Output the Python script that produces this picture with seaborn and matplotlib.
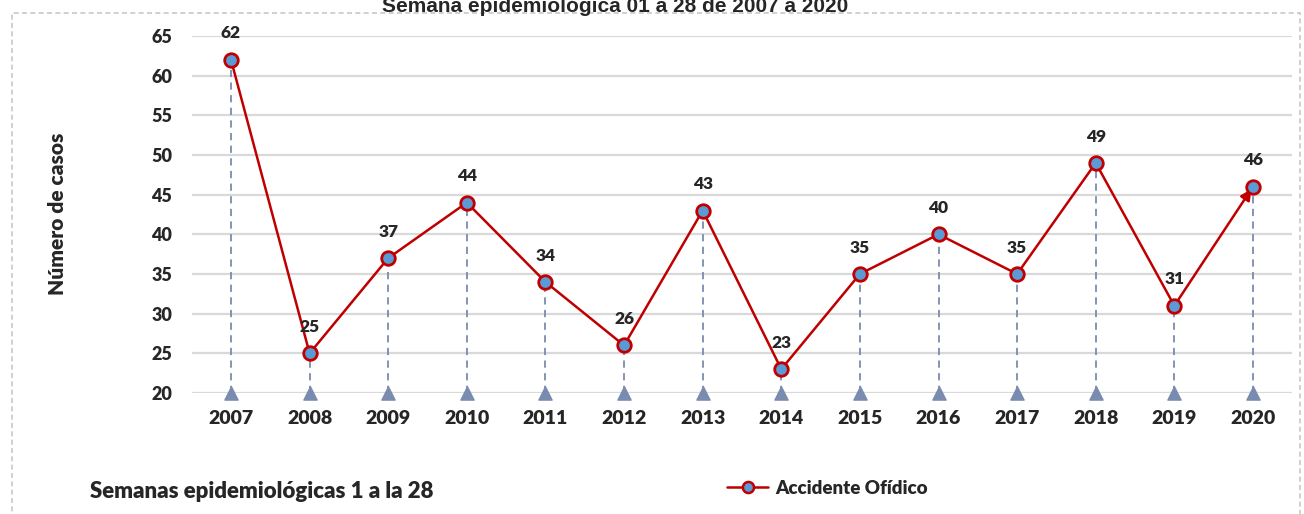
import pandas as pd
import matplotlib
matplotlib.use("Agg")
import matplotlib.pyplot as plt
import seaborn as sns
from matplotlib.lines import Line2D
from matplotlib.patches import Rectangle

# Data
years = ["2007", "2008", "2009", "2010", "2011", "2012", "2013",
         "2014", "2015", "2016", "2017", "2018", "2019", "2020"]
cases = [62, 25, 37, 44, 34, 26, 43, 23, 35, 40, 35, 49, 31, 46]
y_ticks = [20, 25, 30, 35, 40, 45, 50, 55, 60, 65]

title = "Semana epidemiológica 01 a 28 de 2007 a 2020"
subtitle = "Semanas epidemiológicas 1 a la 28"
series_name = "Accidente Ofídico"
y_label = "Número de casos"

RED = "#C00000"
BLUE = "#5B9BD5"
STEM = "#7A8BB0"
GRID = "#D9D9D9"
BOLD = "heavy"

df = pd.DataFrame({"year": years, "cases": cases})
df["pos"] = range(len(df))

sns.set_style("white")
plt.rcParams["font.family"] = ["Lato", "DejaVu Sans"]

fig = plt.figure(figsize=(13.04, 5.14), dpi=100)
ax = fig.add_axes([0.147, 0.2354, 0.844, 0.6946])

# dashed frame of the chart area
fig.patches.append(Rectangle((12 / 1304, -0.05), 1288 / 1304, 1 - 13 / 514 + 0.05,
                             transform=fig.transFigure, fill=False,
                             edgecolor="#C8C8C8", linestyle=(0, (3, 2)), linewidth=1.2))

# horizontal grid
for t in y_ticks:
    ax.axhline(t, color=GRID, linewidth=1.6, zorder=0)

# drop lines with triangle at the base
ax.vlines(df["pos"], y_ticks[0], df["cases"], colors=STEM, linestyles=(0, (4, 3)),
          linewidth=1.3, zorder=1)
ax.scatter(df["pos"], [y_ticks[0]] * len(df), marker="^", s=90, color=STEM,
           zorder=2, clip_on=False)

# main line (last segment as an arrow)
sns.lineplot(data=df.iloc[:-1], x="pos", y="cases", color=RED, linewidth=1.8,
             ax=ax, zorder=3)
ax.annotate("", xy=(df["pos"].iloc[-1], df["cases"].iloc[-1]),
            xytext=(df["pos"].iloc[-2], df["cases"].iloc[-2]),
            arrowprops=dict(arrowstyle="-|>", color=RED, lw=1.8,
                            mutation_scale=16, shrinkA=0, shrinkB=2), zorder=3)
sns.scatterplot(data=df, x="pos", y="cases", s=95, color=BLUE, edgecolor=RED,
                linewidth=2.0, ax=ax, zorder=4, clip_on=False)

# value labels
for p, v in zip(df["pos"], df["cases"]):
    ax.annotate(str(v), (p, v), xytext=(0, 19), textcoords="offset points",
                ha="center", va="center", fontsize=12.5, fontweight=BOLD)

ax.set_xlim(-0.5, len(df) - 0.5)
ax.set_ylim(y_ticks[0], y_ticks[-1])
ax.set_xticks(df["pos"])
ax.set_xticklabels(years)
ax.set_yticks(y_ticks)
ax.tick_params(axis="x", length=0, labelsize=14, pad=12)
ax.tick_params(axis="y", length=0, labelsize=13, pad=14)
for lab in ax.get_xticklabels() + ax.get_yticklabels():
    lab.set_fontweight(BOLD)
ax.set_xlabel("")
ax.set_ylabel("")
for s in ax.spines.values():
    s.set_visible(False)

fig.text(58 / 1304, 1 - 214 / 514, y_label, rotation=90, ha="center", va="center",
         fontsize=15, fontweight=BOLD)
fig.text(90 / 1304, 1 - 492 / 514, subtitle, ha="left", va="center",
         fontsize=16, fontweight=BOLD)
fig.text(615 / 1304, 1 - 7 / 514, title, ha="center", va="center",
         fontsize=15, fontweight="bold", family=["Liberation Sans", "DejaVu Sans"])

handle = Line2D([], [], color=RED, linewidth=1.8, marker="o", markersize=8,
                markerfacecolor=BLUE, markeredgecolor=RED, markeredgewidth=1.8)
fig.legend([handle], [series_name], loc="center left",
           bbox_to_anchor=(710 / 1304, 1 - 488 / 514), frameon=False,
           prop={"size": 13.5, "weight": BOLD}, handlelength=2.2,
           handletextpad=0.4)

fig.savefig("out.png", dpi=100)
